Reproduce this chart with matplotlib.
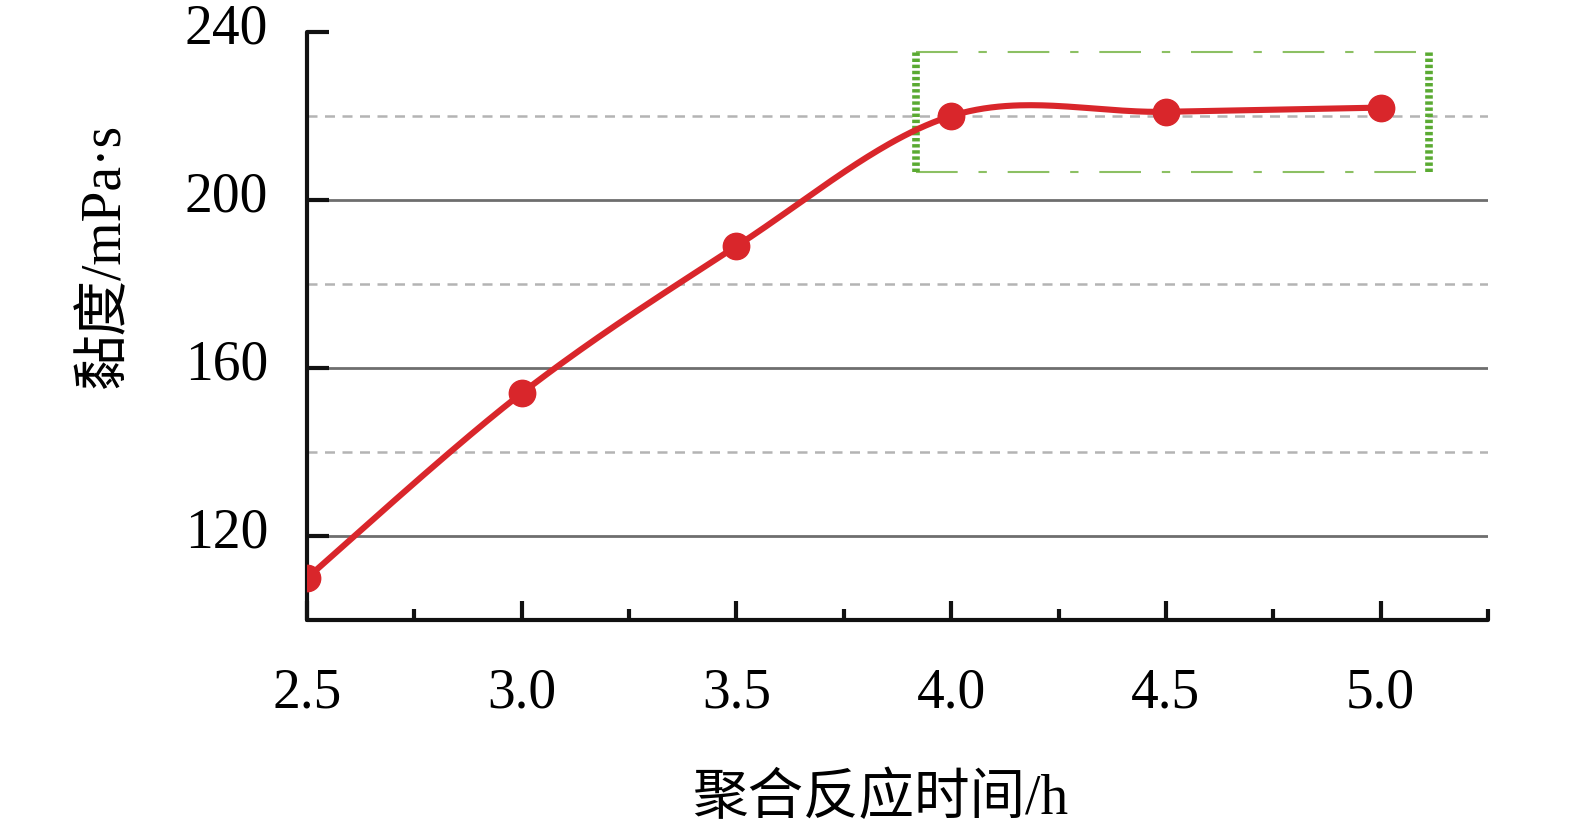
import numpy as np
import matplotlib
matplotlib.use("Agg")
import matplotlib.pyplot as plt
import matplotlib.transforms as mtransforms
from matplotlib.ticker import MultipleLocator

# Data
time_h = [2.5, 3.0, 3.5, 4.0, 4.5, 5.0]
viscosity = [110, 154, 189, 220, 221, 222]
x_ticks = [2.5, 3.0, 3.5, 4.0, 4.5, 5.0]
x_tick_labels = ["2.5", "3.0", "3.5", "4.0", "4.5", "5.0"]
y_ticks = [120, 160, 200, 240]
y_tick_labels = ["120", "160", "200", "240"]
box_x = [3.917, 5.113]
box_y = [206.7, 235.2]
xlabel = "聚合反应时间/h"
ylabel = "黏度/mPa·s"

fam = ["Liberation Serif", "Noto Sans CJK SC"]
plt.rcParams["font.family"] = fam


def smooth_curve(xs, ys, n=60):
    P = np.column_stack([xs, ys]).astype(float)
    Pe = np.vstack([P[0], P, P[-1]])
    out = []
    for i in range(len(P) - 1):
        p0, p1, p2, p3 = Pe[i], Pe[i + 1], Pe[i + 2], Pe[i + 3]
        c1 = p1 + (p2 - p0) / 6.0
        c2 = p2 - (p3 - p1) / 6.0
        t = np.linspace(0, 1, n)[:, None]
        seg = ((1 - t) ** 3) * p1 + 3 * ((1 - t) ** 2) * t * c1 + 3 * (1 - t) * t ** 2 * c2 + t ** 3 * p2
        out.append(seg if i == 0 else seg[1:])
    s = np.vstack(out)
    return s[:, 0], s[:, 1]


fig = plt.figure(figsize=(15.75, 8.36), dpi=100)
ax = fig.add_axes([307 / 1575, 1 - 620 / 836, (1488 - 307) / 1575, (620 - 32) / 836])

ax.set_xlim(2.5, 5.25)
ax.set_ylim(100, 240)

# grid
for v in [120, 160, 200]:
    ax.axhline(v, color="#6e6e6e", lw=2.0, zorder=1)
for v in [140, 180, 220]:
    ax.axhline(v, color="#b4b4b4", lw=1.8, ls=(0, (4, 3)), zorder=1)

sx, sy = smooth_curve(time_h, viscosity)
ax.plot(sx, sy, color="#d9262b", lw=4.4, zorder=4, solid_capstyle="round")
ax.plot(time_h, viscosity, "o", color="#d9262b", ms=19, zorder=5)

# green box
ax.plot(box_x, [box_y[1], box_y[1]], color="#8cc063", lw=1.5, ls=(0, (20, 10, 4, 10)), zorder=3)
ax.plot(box_x, [box_y[0], box_y[0]], color="#8cc063", lw=1.5, ls=(0, (20, 10, 4, 10)), zorder=3)
for bx in box_x:
    ax.plot([bx, bx], box_y, color="#5aaa32", lw=5.5, ls=(0, (0.45, 0.35)), zorder=3,
            solid_capstyle="butt", dash_capstyle="butt")

for s in ["top", "right"]:
    ax.spines[s].set_visible(False)
for s in ["left", "bottom"]:
    ax.spines[s].set_linewidth(3)
    ax.spines[s].set_color("#111111")
    ax.spines[s].set_capstyle("round")

ax.set_xticks(x_ticks)
ax.set_xticklabels(x_tick_labels)
ax.xaxis.set_minor_locator(MultipleLocator(0.25))
ax.set_yticks(y_ticks)
ax.set_yticklabels([])

ax.tick_params(axis="x", which="major", direction="in", length=14, width=3, color="#111111",
               labelsize=40, pad=34)
ax.tick_params(axis="x", which="minor", direction="in", length=8, width=3, color="#111111")
ax.tick_params(axis="y", which="major", direction="in", length=16, width=3, color="#111111")
for lab in ax.get_xticklabels():
    lab.set_family(fam)

ytrans = ax.get_yaxis_transform() + mtransforms.ScaledTranslation(-39 / 100, 2 / 100, fig.dpi_scale_trans)
for v, t in zip(y_ticks, y_tick_labels):
    ax.text(0, v, t, transform=ytrans, ha="right", va="center", fontsize=40, family=fam, clip_on=False)

fig.text(880 / 1575, 1 - 800 / 836, xlabel, ha="center", va="center", fontsize=40, family=fam)
fig.text(105 / 1575, 1 - 255 / 836, ylabel, ha="center", va="center", rotation=90, fontsize=40, family=fam)

fig.savefig("out.png", dpi=100)
